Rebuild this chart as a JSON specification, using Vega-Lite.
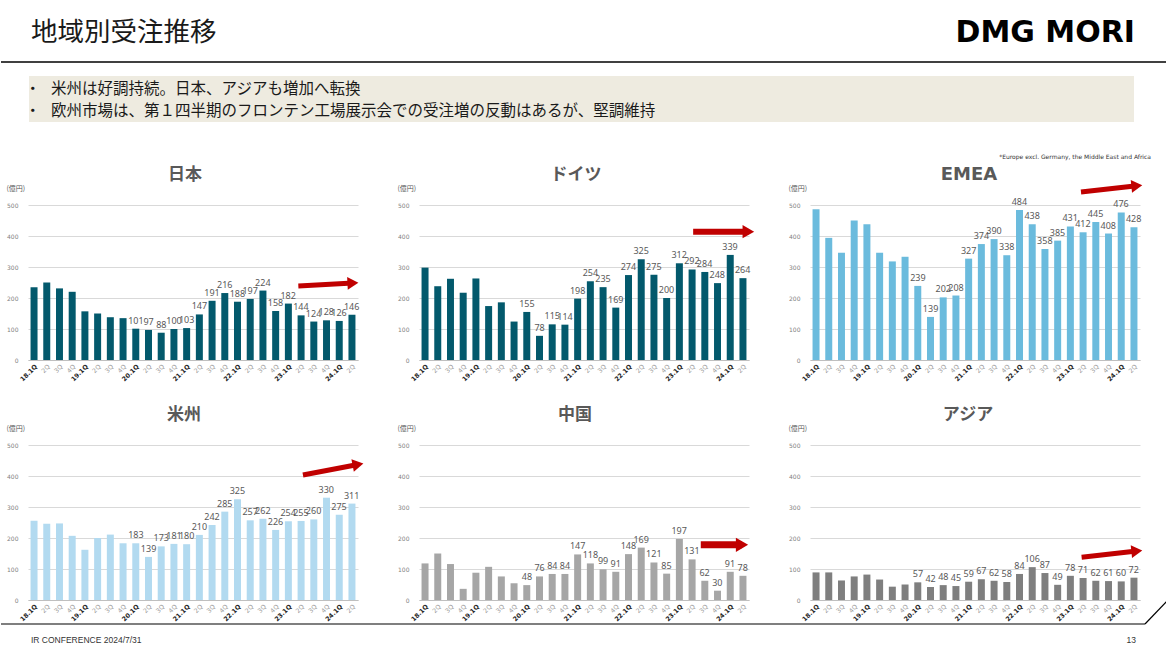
{
"$schema": "https://vega.github.io/schema/vega-lite/v6.json",
"background": "white",
"padding": 0,
"autosize": {"type": "pad"},
"bounds": "flush",
"columns": 3,
"spacing": {"row": 85, "column": 61},
"config": {"view": {"stroke": null}, "font": "Noto Sans CJK JP",
"axisY": {"labelOverlap": false, "titleAngle": 0, "titleAlign": "left", "titleBaseline": "middle", "titleX": -22, "titleY": -17, "titleFontSize": 7, "titleFontWeight": "normal", "titleColor": "#595959", "titleFont": "Noto Sans CJK JP", "labelFontSize": 6, "labelFont": "DejaVu Sans", "labelColor": "#7f7f7f", "labelPadding": 10, "ticks": false, "domain": false, "gridColor": "#d9d9d9"},
"axisX": {"labelAngle": -45, "labelFontSize": 6.3, "labelFont": "DejaVu Sans", "ticks": false, "domainColor": "#bfbfbf", "labelPadding": 3, "grid": false, "labelOverlap": false}
},
"datasets": {
"orders": [
{"r":"日本","q":"18.1Q","v":235},{"r":"日本","q":"18.2Q","v":250},{"r":"日本","q":"18.3Q","v":231},{"r":"日本","q":"18.4Q","v":220},
{"r":"日本","q":"19.1Q","v":157},{"r":"日本","q":"19.2Q","v":150},{"r":"日本","q":"19.3Q","v":138},{"r":"日本","q":"19.4Q","v":135},
{"r":"日本","q":"20.1Q","v":101},{"r":"日本","q":"20.2Q","v":97},{"r":"日本","q":"20.3Q","v":88},{"r":"日本","q":"20.4Q","v":100},
{"r":"日本","q":"21.1Q","v":103},{"r":"日本","q":"21.2Q","v":147},{"r":"日本","q":"21.3Q","v":191},{"r":"日本","q":"21.4Q","v":216},
{"r":"日本","q":"22.1Q","v":188},{"r":"日本","q":"22.2Q","v":197},{"r":"日本","q":"22.3Q","v":224},{"r":"日本","q":"22.4Q","v":158},
{"r":"日本","q":"23.1Q","v":182},{"r":"日本","q":"23.2Q","v":144},{"r":"日本","q":"23.3Q","v":124},{"r":"日本","q":"23.4Q","v":128},
{"r":"日本","q":"24.1Q","v":126},{"r":"日本","q":"24.2Q","v":146},
{"r":"ドイツ","q":"18.1Q","v":298},{"r":"ドイツ","q":"18.2Q","v":238},{"r":"ドイツ","q":"18.3Q","v":262},{"r":"ドイツ","q":"18.4Q","v":217},
{"r":"ドイツ","q":"19.1Q","v":263},{"r":"ドイツ","q":"19.2Q","v":174},{"r":"ドイツ","q":"19.3Q","v":186},{"r":"ドイツ","q":"19.4Q","v":124},
{"r":"ドイツ","q":"20.1Q","v":155},{"r":"ドイツ","q":"20.2Q","v":78},{"r":"ドイツ","q":"20.3Q","v":115},{"r":"ドイツ","q":"20.4Q","v":114},
{"r":"ドイツ","q":"21.1Q","v":198},{"r":"ドイツ","q":"21.2Q","v":254},{"r":"ドイツ","q":"21.3Q","v":235},{"r":"ドイツ","q":"21.4Q","v":169},
{"r":"ドイツ","q":"22.1Q","v":274},{"r":"ドイツ","q":"22.2Q","v":325},{"r":"ドイツ","q":"22.3Q","v":275},{"r":"ドイツ","q":"22.4Q","v":200},
{"r":"ドイツ","q":"23.1Q","v":312},{"r":"ドイツ","q":"23.2Q","v":292},{"r":"ドイツ","q":"23.3Q","v":284},{"r":"ドイツ","q":"23.4Q","v":248},
{"r":"ドイツ","q":"24.1Q","v":339},{"r":"ドイツ","q":"24.2Q","v":264},
{"r":"EMEA","q":"18.1Q","v":486},{"r":"EMEA","q":"18.2Q","v":394},{"r":"EMEA","q":"18.3Q","v":346},{"r":"EMEA","q":"18.4Q","v":450},
{"r":"EMEA","q":"19.1Q","v":438},{"r":"EMEA","q":"19.2Q","v":346},{"r":"EMEA","q":"19.3Q","v":318},{"r":"EMEA","q":"19.4Q","v":333},
{"r":"EMEA","q":"20.1Q","v":239},{"r":"EMEA","q":"20.2Q","v":139},{"r":"EMEA","q":"20.3Q","v":202},{"r":"EMEA","q":"20.4Q","v":208},
{"r":"EMEA","q":"21.1Q","v":327},{"r":"EMEA","q":"21.2Q","v":374},{"r":"EMEA","q":"21.3Q","v":390},{"r":"EMEA","q":"21.4Q","v":338},
{"r":"EMEA","q":"22.1Q","v":484},{"r":"EMEA","q":"22.2Q","v":438},{"r":"EMEA","q":"22.3Q","v":358},{"r":"EMEA","q":"22.4Q","v":385},
{"r":"EMEA","q":"23.1Q","v":431},{"r":"EMEA","q":"23.2Q","v":412},{"r":"EMEA","q":"23.3Q","v":445},{"r":"EMEA","q":"23.4Q","v":408},
{"r":"EMEA","q":"24.1Q","v":476},{"r":"EMEA","q":"24.2Q","v":428},
{"r":"米州","q":"18.1Q","v":256},{"r":"米州","q":"18.2Q","v":246},{"r":"米州","q":"18.3Q","v":247},{"r":"米州","q":"18.4Q","v":207},
{"r":"米州","q":"19.1Q","v":162},{"r":"米州","q":"19.2Q","v":200},{"r":"米州","q":"19.3Q","v":211},{"r":"米州","q":"19.4Q","v":183},
{"r":"米州","q":"20.1Q","v":183},{"r":"米州","q":"20.2Q","v":139},{"r":"米州","q":"20.3Q","v":173},{"r":"米州","q":"20.4Q","v":181},
{"r":"米州","q":"21.1Q","v":180},{"r":"米州","q":"21.2Q","v":210},{"r":"米州","q":"21.3Q","v":242},{"r":"米州","q":"21.4Q","v":285},
{"r":"米州","q":"22.1Q","v":325},{"r":"米州","q":"22.2Q","v":257},{"r":"米州","q":"22.3Q","v":262},{"r":"米州","q":"22.4Q","v":226},
{"r":"米州","q":"23.1Q","v":254},{"r":"米州","q":"23.2Q","v":255},{"r":"米州","q":"23.3Q","v":260},{"r":"米州","q":"23.4Q","v":330},
{"r":"米州","q":"24.1Q","v":275},{"r":"米州","q":"24.2Q","v":311},
{"r":"中国","q":"18.1Q","v":118},{"r":"中国","q":"18.2Q","v":150},{"r":"中国","q":"18.3Q","v":116},{"r":"中国","q":"18.4Q","v":36},
{"r":"中国","q":"19.1Q","v":88},{"r":"中国","q":"19.2Q","v":107},{"r":"中国","q":"19.3Q","v":76},{"r":"中国","q":"19.4Q","v":54},
{"r":"中国","q":"20.1Q","v":48},{"r":"中国","q":"20.2Q","v":76},{"r":"中国","q":"20.3Q","v":84},{"r":"中国","q":"20.4Q","v":84},
{"r":"中国","q":"21.1Q","v":147},{"r":"中国","q":"21.2Q","v":118},{"r":"中国","q":"21.3Q","v":99},{"r":"中国","q":"21.4Q","v":91},
{"r":"中国","q":"22.1Q","v":148},{"r":"中国","q":"22.2Q","v":169},{"r":"中国","q":"22.3Q","v":121},{"r":"中国","q":"22.4Q","v":85},
{"r":"中国","q":"23.1Q","v":197},{"r":"中国","q":"23.2Q","v":131},{"r":"中国","q":"23.3Q","v":62},{"r":"中国","q":"23.4Q","v":30},
{"r":"中国","q":"24.1Q","v":91},{"r":"中国","q":"24.2Q","v":78},
{"r":"アジア","q":"18.1Q","v":89},{"r":"アジア","q":"18.2Q","v":89},{"r":"アジア","q":"18.3Q","v":63},{"r":"アジア","q":"18.4Q","v":76},
{"r":"アジア","q":"19.1Q","v":82},{"r":"アジア","q":"19.2Q","v":66},{"r":"アジア","q":"19.3Q","v":43},{"r":"アジア","q":"19.4Q","v":50},
{"r":"アジア","q":"20.1Q","v":57},{"r":"アジア","q":"20.2Q","v":42},{"r":"アジア","q":"20.3Q","v":48},{"r":"アジア","q":"20.4Q","v":45},
{"r":"アジア","q":"21.1Q","v":59},{"r":"アジア","q":"21.2Q","v":67},{"r":"アジア","q":"21.3Q","v":62},{"r":"アジア","q":"21.4Q","v":58},
{"r":"アジア","q":"22.1Q","v":84},{"r":"アジア","q":"22.2Q","v":106},{"r":"アジア","q":"22.3Q","v":87},{"r":"アジア","q":"22.4Q","v":49},
{"r":"アジア","q":"23.1Q","v":78},{"r":"アジア","q":"23.2Q","v":71},{"r":"アジア","q":"23.3Q","v":62},{"r":"アジア","q":"23.4Q","v":61},
{"r":"アジア","q":"24.1Q","v":60},{"r":"アジア","q":"24.2Q","v":72}
],
"arrows": [
{"r":"日本","x0":21.3,"y0":239,"x1":25.6,"y1":248},
{"r":"ドイツ","x0":21.6,"y0":414,"x1":25.95,"y1":414},
{"r":"EMEA","x0":21.35,"y0":542,"x1":25.75,"y1":562},
{"r":"米州","x0":21.66,"y0":403,"x1":26.0,"y1":437},
{"r":"中国","x0":22.2,"y0":178,"x1":25.45,"y1":178},
{"r":"アジア","x0":21.4,"y0":138,"x1":25.75,"y1":158}
]
},
"concat": [
{
"width": 330, "height": 155,
"resolve": {"scale": {"x": "independent", "y": "independent"}},
"layer": [
{"data": {"name": "orders"}, "transform": [{"filter": "datum.r === '日本'"}],
"mark": {"type": "bar", "color": "#03596c"},
"encoding": {
"x": {"field": "q", "type": "ordinal", "sort": null, "scale": {"paddingInner": 0.45, "paddingOuter": 0.2},
"axis": {"title": null, "labelExpr": "indexof(datum.value,'.1Q')>=0 ? datum.value : slice(datum.value,3)", "labelColor": {"condition": {"test": "indexof(datum.value,'.1Q')>=0", "value": "#262626"}, "value": "#999999"}, "labelFontWeight": {"condition": {"test": "indexof(datum.value,'.1Q')>=0", "value": "bold"}, "value": "normal"}}},
"y": {"field": "v", "type": "quantitative", "scale": {"domain": [0, 500], "nice": false},
"axis": {"values": [0,100,200,300,400,500], "title": "(億円)"}}
}},
{"data": {"name": "orders"}, "transform": [{"filter": "datum.r === '日本' && toNumber(slice(datum.q,0,2)) >= 20"}],
"mark": {"type": "text", "baseline": "bottom", "dy": -3, "fontSize": 9, "font": "Noto Sans", "color": "#595959"},
"encoding": {"x": {"field": "q", "type": "ordinal", "sort": null, "scale": {"domain": ["18.1Q","18.2Q","18.3Q","18.4Q","19.1Q","19.2Q","19.3Q","19.4Q","20.1Q","20.2Q","20.3Q","20.4Q","21.1Q","21.2Q","21.3Q","21.4Q","22.1Q","22.2Q","22.3Q","22.4Q","23.1Q","23.2Q","23.3Q","23.4Q","24.1Q","24.2Q"], "paddingInner": 0.45, "paddingOuter": 0.2}, "axis": null}, "y": {"field": "v", "type": "quantitative", "scale": {"domain": [0, 500], "nice": false}, "axis": null}, "text": {"field": "v", "type": "quantitative"}}},
{"data": {"name": "arrows"}, "transform": [{"filter": "datum.r === '日本'"}],
"layer": [
{"mark": {"type": "rule", "color": "#c00000", "strokeWidth": 5, "strokeCap": "butt"},
"encoding": {"x": {"field": "x0", "type": "quantitative", "scale": {"domain": [0, 26], "nice": false, "zero": false}, "axis": null}, "x2": {"field": "x1"}, "y": {"field": "y0", "type": "quantitative", "scale": {"domain": [0, 500], "nice": false}, "axis": null}, "y2": {"field": "y1"}}},
{"mark": {"type": "point", "shape": "triangle-right", "filled": true, "opacity": 1, "color": "#c00000", "size": 160, "angle": -3},
"encoding": {"x": {"field": "x1", "type": "quantitative", "axis": null}, "y": {"field": "y1", "type": "quantitative", "axis": null}}}
]},
{"data": {"values": [{"t": "日本"}]}, "mark": {"type": "text", "align": "center", "baseline": "middle", "fontSize": 17, "fontWeight": "bold", "font": "Noto Sans CJK JP", "color": "#595959"}, "encoding": {"x": {"value": 157}, "y": {"value": -30}, "text": {"field": "t"}}},
{"data": {"values": [{}]}, "mark": {"type": "rule", "color": "#ffffff", "strokeWidth": 1}, "encoding": {"x": {"value": -27}, "x2": {"value": 1139}, "y": {"value": -204.5}}},
{"data": {"values": [{}]}, "mark": {"type": "rule", "color": "#000000", "strokeWidth": 1.5}, "encoding": {"x": {"value": -27}, "x2": {"value": 1139}, "y": {"value": -143}}},
{"data": {"values": [{}]}, "mark": {"type": "rect", "color": "#eeebe0"}, "encoding": {"x": {"value": 1}, "x2": {"value": 1106}, "y": {"value": -129}, "y2": {"value": -83}}},
{"data": {"values": [{"t": "地域別受注推移"}]}, "mark": {"type": "text", "align": "left", "baseline": "middle", "fontSize": 26.5, "font": "Noto Sans CJK JP", "color": "#1a1a1a"}, "encoding": {"x": {"value": 3}, "y": {"value": -172}, "text": {"field": "t"}}},
{"data": {"values": [{"t": "DMG MORI"}]}, "mark": {"type": "text", "align": "right", "baseline": "middle", "fontSize": 30, "fontWeight": "bold", "font": "DejaVu Sans", "color": "#000000"}, "encoding": {"x": {"value": 1107}, "y": {"value": -172}, "text": {"field": "t"}}},
{"data": {"values": [{"t": "・"}]}, "mark": {"type": "text", "align": "left", "baseline": "middle", "fontSize": 15.5, "font": "Noto Sans CJK JP", "color": "#1a1a1a"}, "encoding": {"x": {"value": -3}, "y": {"value": -116}, "text": {"field": "t"}}},
{"data": {"values": [{"t": "・"}]}, "mark": {"type": "text", "align": "left", "baseline": "middle", "fontSize": 15.5, "font": "Noto Sans CJK JP", "color": "#1a1a1a"}, "encoding": {"x": {"value": -3}, "y": {"value": -94}, "text": {"field": "t"}}},
{"data": {"values": [{"t": "米州は好調持続。日本、アジアも増加へ転換"}]}, "mark": {"type": "text", "align": "left", "baseline": "middle", "fontSize": 15.5, "font": "Noto Sans CJK JP", "color": "#1a1a1a"}, "encoding": {"x": {"value": 23}, "y": {"value": -116}, "text": {"field": "t"}}},
{"data": {"values": [{"t": "欧州市場は、第１四半期のフロンテン工場展示会での受注増の反動はあるが、堅調維持"}]}, "mark": {"type": "text", "align": "left", "baseline": "middle", "fontSize": 15.5, "font": "Noto Sans CJK JP", "color": "#1a1a1a"}, "encoding": {"x": {"value": 23}, "y": {"value": -94}, "text": {"field": "t"}}}
]
},
{
"width": 330, "height": 155,
"resolve": {"scale": {"x": "independent", "y": "independent"}},
"layer": [
{"data": {"name": "orders"}, "transform": [{"filter": "datum.r === 'ドイツ'"}],
"mark": {"type": "bar", "color": "#03596c"},
"encoding": {
"x": {"field": "q", "type": "ordinal", "sort": null, "scale": {"paddingInner": 0.45, "paddingOuter": 0.2},
"axis": {"title": null, "labelExpr": "indexof(datum.value,'.1Q')>=0 ? datum.value : slice(datum.value,3)", "labelColor": {"condition": {"test": "indexof(datum.value,'.1Q')>=0", "value": "#262626"}, "value": "#999999"}, "labelFontWeight": {"condition": {"test": "indexof(datum.value,'.1Q')>=0", "value": "bold"}, "value": "normal"}}},
"y": {"field": "v", "type": "quantitative", "scale": {"domain": [0, 500], "nice": false},
"axis": {"values": [0,100,200,300,400,500], "title": "(億円)"}}
}},
{"data": {"name": "orders"}, "transform": [{"filter": "datum.r === 'ドイツ' && toNumber(slice(datum.q,0,2)) >= 20"}],
"mark": {"type": "text", "baseline": "bottom", "dy": -3, "fontSize": 9, "font": "Noto Sans", "color": "#595959"},
"encoding": {"x": {"field": "q", "type": "ordinal", "sort": null, "scale": {"domain": ["18.1Q","18.2Q","18.3Q","18.4Q","19.1Q","19.2Q","19.3Q","19.4Q","20.1Q","20.2Q","20.3Q","20.4Q","21.1Q","21.2Q","21.3Q","21.4Q","22.1Q","22.2Q","22.3Q","22.4Q","23.1Q","23.2Q","23.3Q","23.4Q","24.1Q","24.2Q"], "paddingInner": 0.45, "paddingOuter": 0.2}, "axis": null}, "y": {"field": "v", "type": "quantitative", "scale": {"domain": [0, 500], "nice": false}, "axis": null}, "text": {"field": "v", "type": "quantitative"}}},
{"data": {"name": "arrows"}, "transform": [{"filter": "datum.r === 'ドイツ'"}],
"layer": [
{"mark": {"type": "rule", "color": "#c00000", "strokeWidth": 6, "strokeCap": "butt"},
"encoding": {"x": {"field": "x0", "type": "quantitative", "scale": {"domain": [0, 26], "nice": false, "zero": false}, "axis": null}, "x2": {"field": "x1"}, "y": {"field": "y0", "type": "quantitative", "scale": {"domain": [0, 500], "nice": false}, "axis": null}, "y2": {"field": "y1"}}},
{"mark": {"type": "point", "shape": "triangle-right", "filled": true, "opacity": 1, "color": "#c00000", "size": 180, "angle": 0},
"encoding": {"x": {"field": "x1", "type": "quantitative", "axis": null}, "y": {"field": "y1", "type": "quantitative", "axis": null}}}
]},
{"data": {"values": [{"t": "ドイツ"}]}, "mark": {"type": "text", "align": "center", "baseline": "middle", "fontSize": 17, "fontWeight": "bold", "font": "Noto Sans CJK JP", "color": "#595959"}, "encoding": {"x": {"value": 157}, "y": {"value": -30}, "text": {"field": "t"}}}
]
},
{
"width": 330, "height": 155,
"resolve": {"scale": {"x": "independent", "y": "independent"}},
"layer": [
{"data": {"name": "orders"}, "transform": [{"filter": "datum.r === 'EMEA'"}],
"mark": {"type": "bar", "color": "#6bbbdd"},
"encoding": {
"x": {"field": "q", "type": "ordinal", "sort": null, "scale": {"paddingInner": 0.45, "paddingOuter": 0.2},
"axis": {"title": null, "labelExpr": "indexof(datum.value,'.1Q')>=0 ? datum.value : slice(datum.value,3)", "labelColor": {"condition": {"test": "indexof(datum.value,'.1Q')>=0", "value": "#262626"}, "value": "#999999"}, "labelFontWeight": {"condition": {"test": "indexof(datum.value,'.1Q')>=0", "value": "bold"}, "value": "normal"}}},
"y": {"field": "v", "type": "quantitative", "scale": {"domain": [0, 500], "nice": false},
"axis": {"values": [0,100,200,300,400,500], "title": "(億円)"}}
}},
{"data": {"name": "orders"}, "transform": [{"filter": "datum.r === 'EMEA' && toNumber(slice(datum.q,0,2)) >= 20"}],
"mark": {"type": "text", "baseline": "bottom", "dy": -3, "fontSize": 9, "font": "Noto Sans", "color": "#595959"},
"encoding": {"x": {"field": "q", "type": "ordinal", "sort": null, "scale": {"domain": ["18.1Q","18.2Q","18.3Q","18.4Q","19.1Q","19.2Q","19.3Q","19.4Q","20.1Q","20.2Q","20.3Q","20.4Q","21.1Q","21.2Q","21.3Q","21.4Q","22.1Q","22.2Q","22.3Q","22.4Q","23.1Q","23.2Q","23.3Q","23.4Q","24.1Q","24.2Q"], "paddingInner": 0.45, "paddingOuter": 0.2}, "axis": null}, "y": {"field": "v", "type": "quantitative", "scale": {"domain": [0, 500], "nice": false}, "axis": null}, "text": {"field": "v", "type": "quantitative"}}},
{"data": {"name": "arrows"}, "transform": [{"filter": "datum.r === 'EMEA'"}],
"layer": [
{"mark": {"type": "rule", "color": "#c00000", "strokeWidth": 5, "strokeCap": "butt"},
"encoding": {"x": {"field": "x0", "type": "quantitative", "scale": {"domain": [0, 26], "nice": false, "zero": false}, "axis": null}, "x2": {"field": "x1"}, "y": {"field": "y0", "type": "quantitative", "scale": {"domain": [0, 500], "nice": false}, "axis": null}, "y2": {"field": "y1"}}},
{"mark": {"type": "point", "shape": "triangle-right", "filled": true, "opacity": 1, "color": "#c00000", "size": 160, "angle": -6},
"encoding": {"x": {"field": "x1", "type": "quantitative", "axis": null}, "y": {"field": "y1", "type": "quantitative", "axis": null}}}
]},
{"data": {"values": [{"t": "EMEA"}]}, "mark": {"type": "text", "align": "center", "baseline": "middle", "fontSize": 18, "fontWeight": "bold", "font": "DejaVu Sans", "color": "#595959"}, "encoding": {"x": {"value": 159}, "y": {"value": -30}, "text": {"field": "t"}}},
{"data": {"values": [{"t": "*Europe excl. Germany, the Middle East and Africa"}]}, "mark": {"type": "text", "align": "right", "baseline": "middle", "fontSize": 6, "font": "DejaVu Sans", "color": "#333333"}, "encoding": {"x": {"value": 341}, "y": {"value": -48}, "text": {"field": "t"}}}
]
},
{
"width": 330, "height": 155,
"resolve": {"scale": {"x": "independent", "y": "independent"}},
"layer": [
{"data": {"name": "orders"}, "transform": [{"filter": "datum.r === '米州'"}],
"mark": {"type": "bar", "color": "#b2daf0"},
"encoding": {
"x": {"field": "q", "type": "ordinal", "sort": null, "scale": {"paddingInner": 0.45, "paddingOuter": 0.2},
"axis": {"title": null, "labelExpr": "indexof(datum.value,'.1Q')>=0 ? datum.value : slice(datum.value,3)", "labelColor": {"condition": {"test": "indexof(datum.value,'.1Q')>=0", "value": "#262626"}, "value": "#999999"}, "labelFontWeight": {"condition": {"test": "indexof(datum.value,'.1Q')>=0", "value": "bold"}, "value": "normal"}}},
"y": {"field": "v", "type": "quantitative", "scale": {"domain": [0, 500], "nice": false},
"axis": {"values": [0,100,200,300,400,500], "title": "(億円)"}}
}},
{"data": {"name": "orders"}, "transform": [{"filter": "datum.r === '米州' && toNumber(slice(datum.q,0,2)) >= 20"}],
"mark": {"type": "text", "baseline": "bottom", "dy": -3, "fontSize": 9, "font": "Noto Sans", "color": "#595959"},
"encoding": {"x": {"field": "q", "type": "ordinal", "sort": null, "scale": {"domain": ["18.1Q","18.2Q","18.3Q","18.4Q","19.1Q","19.2Q","19.3Q","19.4Q","20.1Q","20.2Q","20.3Q","20.4Q","21.1Q","21.2Q","21.3Q","21.4Q","22.1Q","22.2Q","22.3Q","22.4Q","23.1Q","23.2Q","23.3Q","23.4Q","24.1Q","24.2Q"], "paddingInner": 0.45, "paddingOuter": 0.2}, "axis": null}, "y": {"field": "v", "type": "quantitative", "scale": {"domain": [0, 500], "nice": false}, "axis": null}, "text": {"field": "v", "type": "quantitative"}}},
{"data": {"name": "arrows"}, "transform": [{"filter": "datum.r === '米州'"}],
"layer": [
{"mark": {"type": "rule", "color": "#c00000", "strokeWidth": 5, "strokeCap": "butt"},
"encoding": {"x": {"field": "x0", "type": "quantitative", "scale": {"domain": [0, 26], "nice": false, "zero": false}, "axis": null}, "x2": {"field": "x1"}, "y": {"field": "y0", "type": "quantitative", "scale": {"domain": [0, 500], "nice": false}, "axis": null}, "y2": {"field": "y1"}}},
{"mark": {"type": "point", "shape": "triangle-right", "filled": true, "opacity": 1, "color": "#c00000", "size": 160, "angle": -11},
"encoding": {"x": {"field": "x1", "type": "quantitative", "axis": null}, "y": {"field": "y1", "type": "quantitative", "axis": null}}}
]},
{"data": {"values": [{"t": "米州"}]}, "mark": {"type": "text", "align": "center", "baseline": "middle", "fontSize": 17, "fontWeight": "bold", "font": "Noto Sans CJK JP", "color": "#595959"}, "encoding": {"x": {"value": 156}, "y": {"value": -30}, "text": {"field": "t"}}},
{"data": {"values": [{}]}, "mark": {"type": "rule", "color": "#000000", "strokeWidth": 1.2}, "encoding": {"x": {"value": -27}, "x2": {"value": 1117}, "y": {"value": 179}}},
{"data": {"values": [{}]}, "mark": {"type": "rule", "color": "#000000", "strokeWidth": 1.2}, "encoding": {"x": {"value": 1117}, "x2": {"value": 1139}, "y": {"value": 179}, "y2": {"value": 156}}},
{"data": {"values": [{"t": "IR CONFERENCE 2024/7/31"}]}, "mark": {"type": "text", "align": "left", "baseline": "middle", "fontSize": 8.5, "font": "Liberation Sans", "color": "#333333"}, "encoding": {"x": {"value": 3}, "y": {"value": 195}, "text": {"field": "t"}}},
{"data": {"values": [{"t": "13"}]}, "mark": {"type": "text", "align": "right", "baseline": "middle", "fontSize": 8.5, "font": "Liberation Sans", "color": "#333333"}, "encoding": {"x": {"value": 1108}, "y": {"value": 195}, "text": {"field": "t"}}}
]
},
{
"width": 330, "height": 155,
"resolve": {"scale": {"x": "independent", "y": "independent"}},
"layer": [
{"data": {"name": "orders"}, "transform": [{"filter": "datum.r === '中国'"}],
"mark": {"type": "bar", "color": "#a6a6a6"},
"encoding": {
"x": {"field": "q", "type": "ordinal", "sort": null, "scale": {"paddingInner": 0.45, "paddingOuter": 0.2},
"axis": {"title": null, "labelExpr": "indexof(datum.value,'.1Q')>=0 ? datum.value : slice(datum.value,3)", "labelColor": {"condition": {"test": "indexof(datum.value,'.1Q')>=0", "value": "#262626"}, "value": "#999999"}, "labelFontWeight": {"condition": {"test": "indexof(datum.value,'.1Q')>=0", "value": "bold"}, "value": "normal"}}},
"y": {"field": "v", "type": "quantitative", "scale": {"domain": [0, 500], "nice": false},
"axis": {"values": [0,100,200,300,400,500], "title": "(億円)"}}
}},
{"data": {"name": "orders"}, "transform": [{"filter": "datum.r === '中国' && toNumber(slice(datum.q,0,2)) >= 20"}],
"mark": {"type": "text", "baseline": "bottom", "dy": -3, "fontSize": 9, "font": "Noto Sans", "color": "#595959"},
"encoding": {"x": {"field": "q", "type": "ordinal", "sort": null, "scale": {"domain": ["18.1Q","18.2Q","18.3Q","18.4Q","19.1Q","19.2Q","19.3Q","19.4Q","20.1Q","20.2Q","20.3Q","20.4Q","21.1Q","21.2Q","21.3Q","21.4Q","22.1Q","22.2Q","22.3Q","22.4Q","23.1Q","23.2Q","23.3Q","23.4Q","24.1Q","24.2Q"], "paddingInner": 0.45, "paddingOuter": 0.2}, "axis": null}, "y": {"field": "v", "type": "quantitative", "scale": {"domain": [0, 500], "nice": false}, "axis": null}, "text": {"field": "v", "type": "quantitative"}}},
{"data": {"name": "arrows"}, "transform": [{"filter": "datum.r === '中国'"}],
"layer": [
{"mark": {"type": "rule", "color": "#c00000", "strokeWidth": 7, "strokeCap": "butt"},
"encoding": {"x": {"field": "x0", "type": "quantitative", "scale": {"domain": [0, 26], "nice": false, "zero": false}, "axis": null}, "x2": {"field": "x1"}, "y": {"field": "y0", "type": "quantitative", "scale": {"domain": [0, 500], "nice": false}, "axis": null}, "y2": {"field": "y1"}}},
{"mark": {"type": "point", "shape": "triangle-right", "filled": true, "opacity": 1, "color": "#c00000", "size": 200, "angle": 0},
"encoding": {"x": {"field": "x1", "type": "quantitative", "axis": null}, "y": {"field": "y1", "type": "quantitative", "axis": null}}}
]},
{"data": {"values": [{"t": "中国"}]}, "mark": {"type": "text", "align": "center", "baseline": "middle", "fontSize": 17, "fontWeight": "bold", "font": "Noto Sans CJK JP", "color": "#595959"}, "encoding": {"x": {"value": 156}, "y": {"value": -30}, "text": {"field": "t"}}}
]
},
{
"width": 330, "height": 155,
"resolve": {"scale": {"x": "independent", "y": "independent"}},
"layer": [
{"data": {"name": "orders"}, "transform": [{"filter": "datum.r === 'アジア'"}],
"mark": {"type": "bar", "color": "#7f7f7f"},
"encoding": {
"x": {"field": "q", "type": "ordinal", "sort": null, "scale": {"paddingInner": 0.45, "paddingOuter": 0.2},
"axis": {"title": null, "labelExpr": "indexof(datum.value,'.1Q')>=0 ? datum.value : slice(datum.value,3)", "labelColor": {"condition": {"test": "indexof(datum.value,'.1Q')>=0", "value": "#262626"}, "value": "#999999"}, "labelFontWeight": {"condition": {"test": "indexof(datum.value,'.1Q')>=0", "value": "bold"}, "value": "normal"}}},
"y": {"field": "v", "type": "quantitative", "scale": {"domain": [0, 500], "nice": false},
"axis": {"values": [0,100,200,300,400,500], "title": "(億円)"}}
}},
{"data": {"name": "orders"}, "transform": [{"filter": "datum.r === 'アジア' && toNumber(slice(datum.q,0,2)) >= 20"}],
"mark": {"type": "text", "baseline": "bottom", "dy": -3, "fontSize": 9, "font": "Noto Sans", "color": "#595959"},
"encoding": {"x": {"field": "q", "type": "ordinal", "sort": null, "scale": {"domain": ["18.1Q","18.2Q","18.3Q","18.4Q","19.1Q","19.2Q","19.3Q","19.4Q","20.1Q","20.2Q","20.3Q","20.4Q","21.1Q","21.2Q","21.3Q","21.4Q","22.1Q","22.2Q","22.3Q","22.4Q","23.1Q","23.2Q","23.3Q","23.4Q","24.1Q","24.2Q"], "paddingInner": 0.45, "paddingOuter": 0.2}, "axis": null}, "y": {"field": "v", "type": "quantitative", "scale": {"domain": [0, 500], "nice": false}, "axis": null}, "text": {"field": "v", "type": "quantitative"}}},
{"data": {"name": "arrows"}, "transform": [{"filter": "datum.r === 'アジア'"}],
"layer": [
{"mark": {"type": "rule", "color": "#c00000", "strokeWidth": 5, "strokeCap": "butt"},
"encoding": {"x": {"field": "x0", "type": "quantitative", "scale": {"domain": [0, 26], "nice": false, "zero": false}, "axis": null}, "x2": {"field": "x1"}, "y": {"field": "y0", "type": "quantitative", "scale": {"domain": [0, 500], "nice": false}, "axis": null}, "y2": {"field": "y1"}}},
{"mark": {"type": "point", "shape": "triangle-right", "filled": true, "opacity": 1, "color": "#c00000", "size": 160, "angle": -6},
"encoding": {"x": {"field": "x1", "type": "quantitative", "axis": null}, "y": {"field": "y1", "type": "quantitative", "axis": null}}}
]},
{"data": {"values": [{"t": "アジア"}]}, "mark": {"type": "text", "align": "center", "baseline": "middle", "fontSize": 17, "fontWeight": "bold", "font": "Noto Sans CJK JP", "color": "#595959"}, "encoding": {"x": {"value": 158}, "y": {"value": -30}, "text": {"field": "t"}}}
]
}
]
}
